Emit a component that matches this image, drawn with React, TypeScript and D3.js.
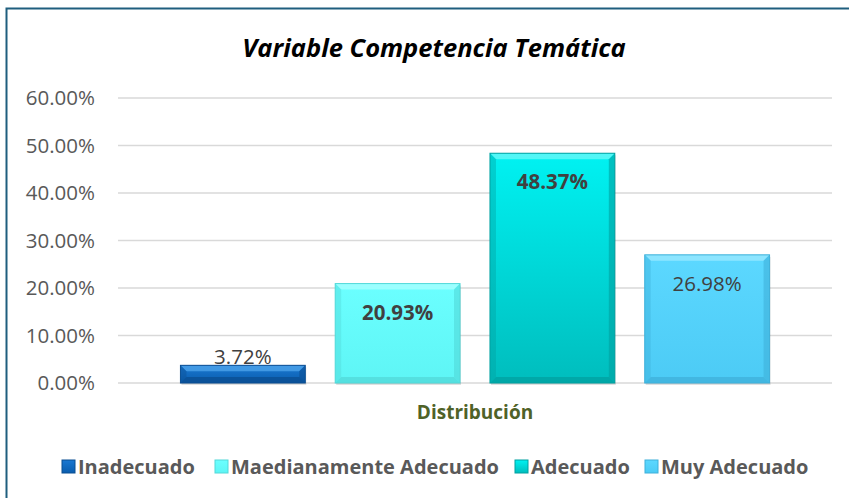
import React from "react";
import * as d3 from "d3";

const series = ["Inadecuado", "Maedianamente Adecuado", "Adecuado", "Muy Adecuado"];
const values = [3.72, 20.93, 48.37, 26.98];
const labelBold = [false, true, true, false];
const labelInside = [false, true, true, true];
const ticks = [0, 10, 20, 30, 40, 50, 60];
const category = "Distribución";
const title = "Variable Competencia Temática";

const topColors = ["#1A78D2", "#6BFFFF", "#00F2F2", "#5CD8FF"];
const botColors = ["#0A5DAE", "#5EF5F5", "#00BDBD", "#4CCBF5"];
const sideColors = ["#0B4E92", "#52D8D8", "#00A0A0", "#3FB0DA"];
const hiColors = ["#4CA2EA", "#A8FFFF", "#66F8F8", "#9AE8FF"];

export default function App() {
  const W = 849, H = 498;
  const y = d3.scaleLinear().domain([0, 60]).range([383, 98]);
  const x0 = d3.scaleBand().domain([category]).range([118, 832]).paddingInner(0).paddingOuter(0.106);
  const x1 = d3.scaleBand().domain(series).range([x0(category)!, x0(category)! + x0.bandwidth()]).paddingInner(0.1935).paddingOuter(0);
  const bev = 6;
  const font = "'Open Sans', sans-serif";
  const legendX = [62, 215, 515, 645];
  return (
    <svg width={W} height={H} style={{ position: "absolute", left: 0, top: 0 }}>
      <defs>
        {series.map((s, i) => (
          <linearGradient key={s} id={"g" + i} x1="0" y1="0" x2="0" y2="1">
            <stop offset="0" stopColor={topColors[i]} />
            <stop offset="1" stopColor={botColors[i]} />
          </linearGradient>
        ))}
      </defs>
      <rect x={0} y={0} width={W} height={H} fill="#fff" />
      <path d={`M6.5,${H} V8.5 H${W}`} fill="none" stroke="#1F5E7E" strokeWidth={2} />
      <text x={434} y={57} textAnchor="middle" fontFamily={font} fontSize={25.5} fontWeight="bold" fontStyle="italic" fill="#000">{title}</text>
      {ticks.map((t) => (
        <g key={t}>
          <line x1={118} x2={832} y1={y(t)} y2={y(t)} stroke="#D9D9D9" strokeWidth={1.5} />
          <text x={95} y={y(t) + 7} textAnchor="end" fontFamily={font} fontSize={20.5} fill="#595959">{t.toFixed(2) + "%"}</text>
        </g>
      ))}
      {series.map((s, i) => {
        const bx = x1(s)!, bw = x1.bandwidth();
        const by = y(values[i]), bh = y(0) - by;
        const b = Math.min(bev, bh / 2);
        return (
          <g key={s}>
            <rect x={bx + 1} y={by + 2} width={bw} height={bh} fill="#000" opacity={0.12} />
            <rect x={bx} y={by} width={bw} height={bh} fill={`url(#g${i})`} />
            <polygon points={`${bx},${by} ${bx + bw},${by} ${bx + bw - b},${by + b} ${bx + b},${by + b}`} fill={hiColors[i]} opacity={0.8} />
            <polygon points={`${bx},${by} ${bx + b},${by + b} ${bx + b},${by + bh - b} ${bx},${by + bh}`} fill={sideColors[i]} opacity={0.4} />
            <polygon points={`${bx + bw},${by} ${bx + bw - b},${by + b} ${bx + bw - b},${by + bh - b} ${bx + bw},${by + bh}`} fill={sideColors[i]} opacity={0.6} />
            <polygon points={`${bx},${by + bh} ${bx + b},${by + bh - b} ${bx + bw - b},${by + bh - b} ${bx + bw},${by + bh}`} fill={sideColors[i]} opacity={0.75} />
            <rect x={bx} y={by} width={bw} height={bh} fill="none" stroke={sideColors[i]} strokeWidth={1} />
            <text x={bx + bw / 2} y={labelInside[i] ? by + 36 : by - 1} textAnchor="middle" fontFamily={font} fontSize={20.5} fontWeight={labelBold[i] ? "bold" : "normal"} fill="#404040">{values[i].toFixed(2) + "%"}</text>
          </g>
        );
      })}
      <text x={475} y={419} textAnchor="middle" fontFamily={font} fontSize={19} fontWeight="bold" fill="#4F6228">{category}</text>
      {series.map((s, i) => (
        <g key={s}>
          <rect x={legendX[i]} y={460} width={13} height={13} fill={`url(#g${i})`} stroke={sideColors[i]} strokeWidth={1} />
          <text x={legendX[i] + 16} y={474} fontFamily={font} fontSize={20} fontWeight="bold" fill="#595959">{s}</text>
        </g>
      ))}
    </svg>
  );
}
